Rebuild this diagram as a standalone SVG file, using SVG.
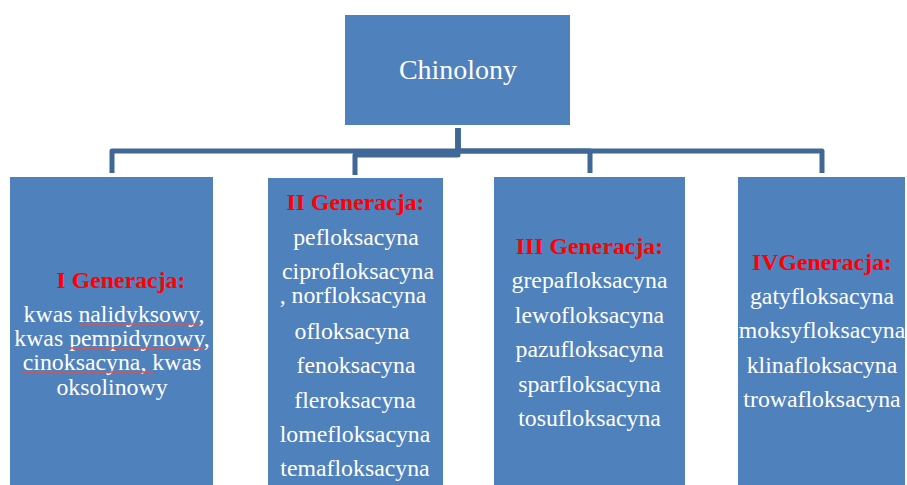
<svg xmlns="http://www.w3.org/2000/svg" width="907" height="485" viewBox="0 0 907 485">
  <style>
    .box { fill: #4F81BD; }
    .title { font-family: "Liberation Serif", "Times New Roman", serif; font-size: 28px; fill: #FFFFFF; text-anchor: middle; }
    .head { font-family: "Liberation Serif", "Times New Roman", serif; font-size: 23.8px; font-weight: bold; fill: #FF0000; text-anchor: middle; }
    .item { font-family: "Liberation Serif", "Times New Roman", serif; font-size: 23.8px; fill: #FFFFFF; text-anchor: middle; }
    .link { fill: none; stroke: #3F6897; stroke-width: 5; stroke-linejoin: round; }
    .spell { fill: none; stroke: #E0504A; stroke-width: 1.3; }
  </style>

  <rect width="907" height="485" fill="#FFFFFF"/>

  <!-- connectors from the root to each generation -->
  <g id="connectors">
    <path class="link" d="M458,128 V151 H112 V173"/>
    <path class="link" d="M458,128 V155 H355 V175"/>
    <path class="link" d="M458,128 V151 H590 V173"/>
    <path class="link" d="M458,128 V151 H822 V173"/>
  </g>

  <g id="root">
    <rect class="box" x="345" y="15" width="225" height="110"/>
    <text class="title" x="458" y="79">Chinolony</text>
  </g>

  <g id="gen1">
    <rect class="box" x="10" y="177" width="203" height="310"/>
    <text class="head" x="121" y="288">I Generacja:</text>
    <text class="item" x="114" y="322"> kwas nalidyksowy,</text>
    <text class="item" x="112" y="346">kwas pempidynowy,</text>
    <text class="item" x="112" y="370">cinoksacyna, kwas</text>
    <text class="item" x="112" y="395">oksolinowy</text>
    <!-- spell-check underlines -->
    <path class="spell" d="M79,324 H200"/>
    <path class="spell" d="M69,348 H204"/>
    <path class="spell" d="M22,372 H153"/>
  </g>

  <g id="gen2">
    <rect class="box" x="268" y="178" width="175" height="309"/>
    <text class="head" x="355.5" y="210">II Generacja:</text>
    <text class="item" x="356" y="245">pefloksacyna</text>
    <text class="item" x="358" y="279">ciprofloksacyna</text>
    <text class="item" x="353" y="303">, norfloksacyna</text>
    <text class="item" x="352" y="339">ofloksacyna</text>
    <text class="item" x="356" y="373">fenoksacyna</text>
    <text class="item" x="355" y="408">fleroksacyna</text>
    <text class="item" x="355" y="442">lomefloksacyna</text>
    <text class="item" x="355" y="476">temafloksacyna</text>
  </g>

  <g id="gen3">
    <rect class="box" x="494" y="177" width="191" height="310"/>
    <text class="head" x="589.5" y="254">III Generacja:</text>
    <text class="item" x="589.5" y="288">grepafloksacyna</text>
    <text class="item" x="589.5" y="323">lewofloksacyna</text>
    <text class="item" x="589.5" y="357">pazufloksacyna</text>
    <text class="item" x="589.5" y="392">sparfloksacyna</text>
    <text class="item" x="589.5" y="426">tosufloksacyna</text>
  </g>

  <g id="gen4">
    <rect class="box" x="738" y="177" width="167" height="310"/>
    <text class="head" x="822" y="270">IVGeneracja:</text>
    <text class="item" x="822" y="304">gatyfloksacyna</text>
    <text class="item" x="822" y="338">moksyfloksacyna</text>
    <text class="item" x="822" y="373">klinafloksacyna</text>
    <text class="item" x="822" y="407">trowafloksacyna</text>
  </g>
</svg>
